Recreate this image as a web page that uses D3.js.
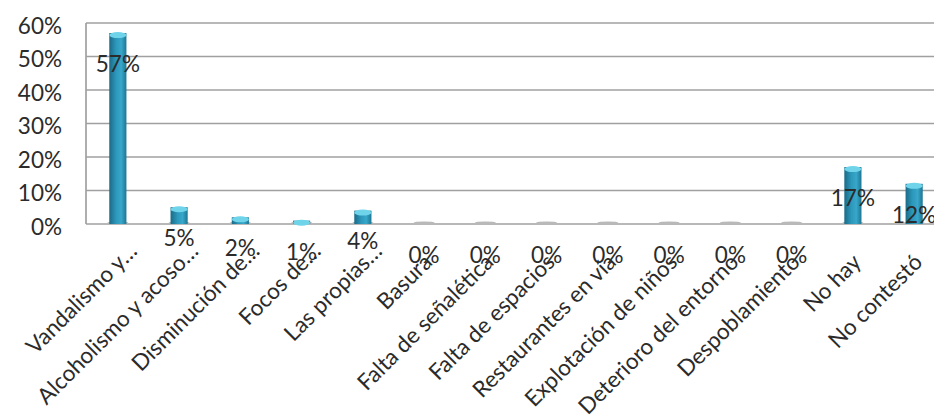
<!DOCTYPE html>
<html>
<head>
<meta charset="utf-8">
<script src="https://cdn.jsdelivr.net/npm/d3@7"></script>
<style>
  html, body { margin: 0; padding: 0; background: #ffffff; overflow: hidden; }
  svg { display: block; font-family: Lato, "Open Sans", sans-serif; }
</style>
</head>
<body>
<div id="chart"></div>
<script>
const categories = [
  "Vandalismo y…",
  "Alcoholismo y acoso…",
  "Disminución de…",
  "Focos de…",
  "Las propias…",
  "Basura",
  "Falta de señalética",
  "Falta de espacios",
  "Restaurantes en vía",
  "Explotación de niños",
  "Deterioro del entorno",
  "Despoblamiento",
  "No hay",
  "No contestó"
];
const shares = [0.57, 0.05, 0.02, 0.01, 0.04, 0, 0, 0, 0, 0, 0, 0, 0.17, 0.12];
const yTicks = [0, 0.1, 0.2, 0.3, 0.4, 0.5, 0.6];

const width = 934;
const height = 415;
const margin = { top: 23, left: 86, bottom: 191 };
const plotBottom = height - margin.bottom;
const fontSize = 22.5;
const textColor = "#2b2b2b";
const gridColor = "#a0a0a0";

const svg = d3.select("#chart")
  .append("svg")
  .attr("width", width)
  .attr("height", height);

const x = d3.scaleBand()
  .domain(categories)
  .range([margin.left, margin.left + 860])
  .paddingInner(0.72)
  .paddingOuter(0.38);

const y = d3.scaleLinear()
  .domain([0, 0.6])
  .range([plotBottom, margin.top]);

const defs = svg.append("defs");
const barGrad = defs.append("linearGradient").attr("id", "barGrad").attr("x1", "0").attr("x2", "1").attr("y1", "0").attr("y2", "0");
barGrad.append("stop").attr("offset", "0%").attr("stop-color", "#1b6a87");
barGrad.append("stop").attr("offset", "40%").attr("stop-color", "#2c98bb");
barGrad.append("stop").attr("offset", "70%").attr("stop-color", "#38a7c9");
barGrad.append("stop").attr("offset", "100%").attr("stop-color", "#1d7593");

// grid lines
svg.append("g")
  .selectAll("line")
  .data(yTicks)
  .join("line")
  .attr("x1", margin.left)
  .attr("x2", width)
  .attr("y1", (d) => y(d))
  .attr("y2", (d) => y(d))
  .attr("stroke", gridColor)
  .attr("stroke-width", 1.7);

svg.append("line")
  .attr("x1", margin.left)
  .attr("x2", margin.left)
  .attr("y1", y(0.6))
  .attr("y2", y(0))
  .attr("stroke", gridColor)
  .attr("stroke-width", 1.7);

svg.append("g")
  .attr("transform", `translate(${margin.left - 24},0)`)
  .call(d3.axisLeft(y).tickValues(yTicks).tickSize(0).tickPadding(0).tickFormat(d3.format(".0%")))
  .call((axis) => axis.select(".domain").remove())
  .call((axis) => axis.selectAll("text")
    .attr("font-family", "Lato, sans-serif")
    .attr("font-size", fontSize)
    .attr("fill", textColor)
    .attr("dy", "0.45em"));

// bars
const bars = svg.append("g");
const bw = x.bandwidth();
const shown = categories.filter((d, i) => shares[i] > 0);
const share = (d) => shares[categories.indexOf(d)];

bars.selectAll("ellipse.base")
  .data(categories)
  .join("ellipse")
  .attr("class", "base")
  .attr("cx", (d) => x(d) + bw / 2)
  .attr("cy", plotBottom - 1)
  .attr("rx", bw / 2 + 2)
  .attr("ry", 1.6)
  .attr("fill", "#b9b9b9");

bars.selectAll("rect")
  .data(shown)
  .join("rect")
  .attr("x", (d) => x(d))
  .attr("y", (d) => y(share(d)))
  .attr("width", bw)
  .attr("height", (d) => plotBottom - y(share(d)))
  .attr("fill", "url(#barGrad)");

bars.selectAll("ellipse.cap")
  .data(shown)
  .join("ellipse")
  .attr("class", "cap")
  .attr("cx", (d) => x(d) + bw / 2)
  .attr("cy", (d) => y(share(d)) + 2)
  .attr("rx", bw / 2)
  .attr("ry", 3)
  .attr("fill", "#6fd4ea");

// category labels (truncated ones fill the whole slot, so they reach further)
svg.append("g")
  .selectAll("text")
  .data(categories)
  .join("text")
  .attr("transform", (d) => {
    const extra = d.endsWith("…") ? 11 : 0;
    return `translate(${x(d) + bw / 2 + 4 + extra},${plotBottom + 34 - extra}) rotate(-45)`;
  })
  .attr("text-anchor", "end")
  .attr("dy", "0.35em")
  .attr("font-size", fontSize)
  .attr("fill", textColor)
  .text((d) => d);

// value labels
svg.append("g")
  .selectAll("text")
  .data(categories)
  .join("text")
  .attr("x", (d) => x(d) + bw / 2)
  .attr("y", (d, i) => y(shares[i]) + 31)
  .attr("dy", "0.35em")
  .attr("text-anchor", "middle")
  .attr("font-size", fontSize)
  .attr("fill", textColor)
  .text((d, i) => d3.format(".0%")(shares[i]));
</script>
</body>
</html>
